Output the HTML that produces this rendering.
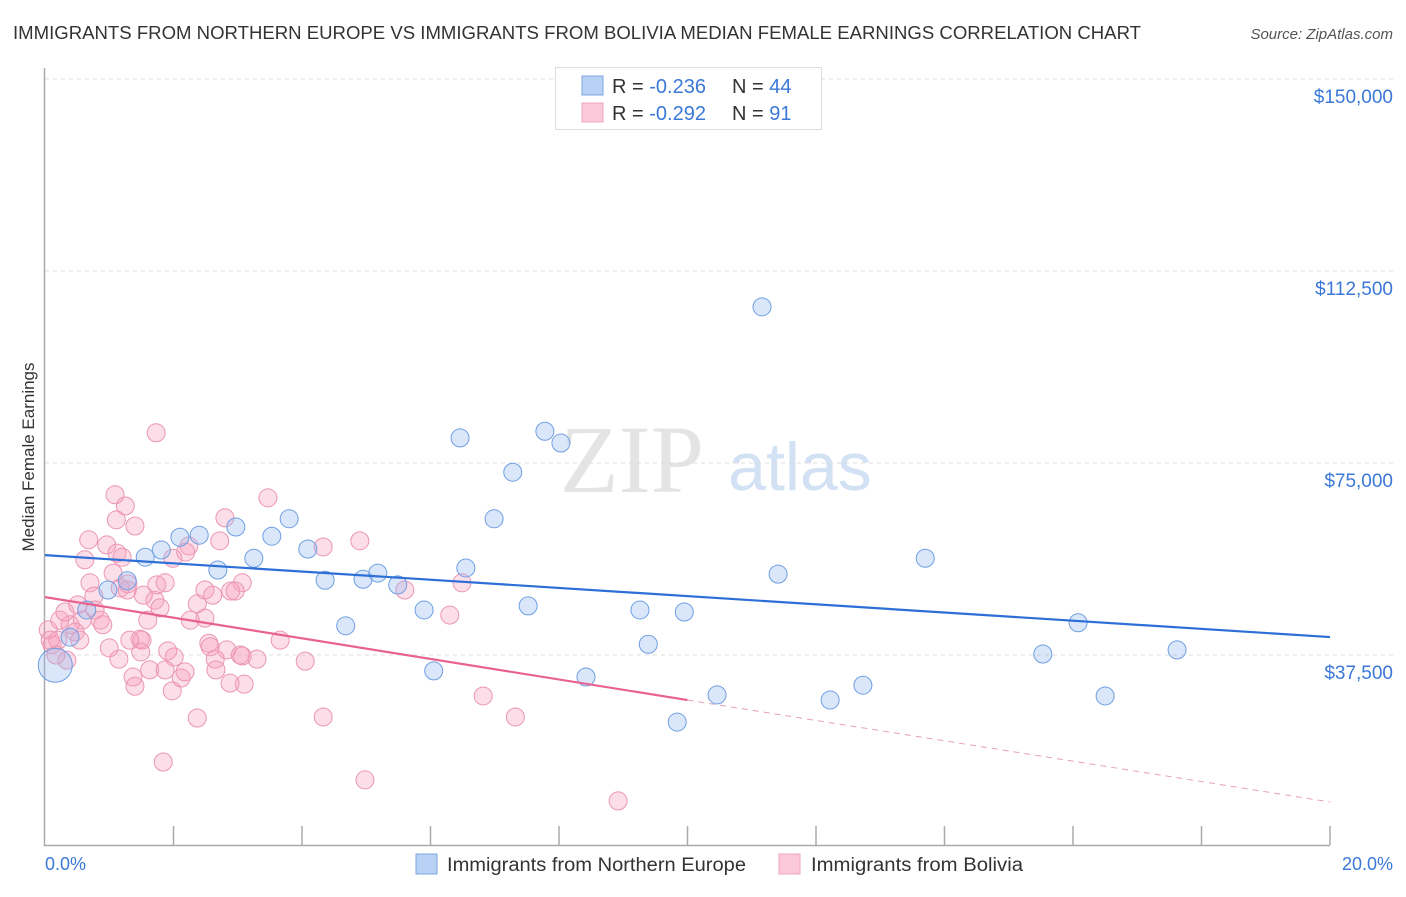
<!DOCTYPE html>
<html><head><meta charset="utf-8"><style>
body{margin:0;background:#fff;width:1406px;height:892px;overflow:hidden;font-family:"Liberation Sans",sans-serif}
</style></head><body>
<svg id="chart" width="1406" height="892" xmlns="http://www.w3.org/2000/svg" font-family="Liberation Sans, sans-serif">
<text x="13" y="39" font-size="18" fill="#333" textLength="1128" lengthAdjust="spacingAndGlyphs">IMMIGRANTS FROM NORTHERN EUROPE VS IMMIGRANTS FROM BOLIVIA MEDIAN FEMALE EARNINGS CORRELATION CHART</text>
<text x="1393" y="39" font-size="15" font-style="italic" fill="#555" text-anchor="end">Source: ZipAtlas.com</text>
<text transform="translate(34,457) rotate(-90)" font-size="17" fill="#333" text-anchor="middle">Median Female Earnings</text>
<g><text x="632" y="492" font-size="96" font-family="Liberation Serif, serif" fill="#e4e4e4" text-anchor="middle">ZIP</text><text x="800" y="490" font-size="68" fill="#d3e1f5" text-anchor="middle">atlas</text></g>
<g id="grid"></g><g id="axes"></g><g id="marks"></g>
<g>
<rect x="555.5" y="67.5" width="266" height="62" fill="#fff" stroke="#ddd"/>
<rect x="582" y="76" width="21" height="19" fill="#b9d1f5" stroke="#7ea6e0"/>
<rect x="582" y="103" width="21" height="19" fill="#fbc9d9" stroke="#eea5bf"/>
<text x="612" y="93" font-size="20" fill="#333">R = <tspan fill="#3b78d8">-0.236</tspan><tspan x="732">N = </tspan><tspan fill="#3b78d8">44</tspan></text>
<text x="612" y="120" font-size="20" fill="#333">R = <tspan fill="#3b78d8">-0.292</tspan><tspan x="732">N = </tspan><tspan fill="#3b78d8"> 91</tspan></text>
</g>
<g>
<rect x="416" y="854" width="21" height="20" fill="#b9d1f5" stroke="#7ea6e0"/>
<text x="447" y="871" font-size="19" fill="#333" textLength="299" lengthAdjust="spacingAndGlyphs">Immigrants from Northern Europe</text>
<rect x="779" y="854" width="21" height="20" fill="#fbc9d9" stroke="#eea5bf"/>
<text x="811" y="871" font-size="19" fill="#333" textLength="212" lengthAdjust="spacingAndGlyphs">Immigrants from Bolivia</text>
</g>
<text x="45" y="870" font-size="18" fill="#3b78d8">0.0%</text>
<text x="1393" y="870" font-size="18" fill="#3b78d8" text-anchor="end">20.0%</text>
</svg>
<script>
const yTicks=[37500,75000,112500,150000];
const yTickLabels=["$37,500","$75,000","$112,500","$150,000"];
const blueX=[11.16,6.46,7.78,8.03,7.28,6.99,3.80,2.97,2.40,2.10,3.53,1.81,1.56,3.25,4.09,2.69,4.36,4.95,5.18,5.49,6.55,13.70,11.41,5.90,7.52,9.26,9.95,4.68,16.08,9.39,17.62,15.53,6.05,8.42,12.73,10.46,12.22,16.50,9.84,1.28,0.98,0.65,0.39,0.16];
const blueY=[105.5,79.9,81.2,78.9,73.2,64.1,64.1,62.5,60.9,60.5,60.7,58.0,56.6,56.4,58.2,54.1,52.1,52.3,53.5,51.2,54.5,56.4,53.3,46.3,47.1,46.3,45.9,43.2,43.8,39.6,38.5,37.7,34.4,33.2,31.6,29.7,28.7,29.5,24.4,52.0,50.2,46.3,41.0,35.5];
const pinkX=[1.73,1.09,1.25,1.11,1.40,0.68,0.96,1.12,0.62,1.20,1.06,0.70,0.76,0.58,1.17,1.28,1.29,1.74,1.71,1.87,2.24,2.19,1.99,1.79,1.60,1.48,1.49,1.15,1.37,1.00,1.40,1.63,1.91,2.01,1.98,1.87,2.12,2.18,2.37,2.55,2.57,2.65,2.66,3.07,2.89,2.96,2.83,3.07,3.30,3.10,2.88,2.37,2.49,2.72,2.80,3.47,3.66,4.05,4.33,4.90,5.60,6.30,6.49,6.82,4.33,7.32,1.84,4.98,8.92,3.04,0.11,0.05,0.23,0.39,0.47,0.54,0.20,0.08,0.31,0.51,0.78,0.86,0.90,0.34,0.17,1.51,1.32,2.49,2.61,1.53,2.26];
const pinkY=[80.9,68.8,66.6,63.9,62.7,60.0,59.0,57.4,56.1,56.6,53.5,51.6,49.0,44.3,50.6,50.2,51.4,51.2,48.2,51.6,58.8,57.6,56.4,46.7,44.3,40.6,38.1,36.7,33.2,38.9,31.4,34.6,38.3,37.1,30.5,34.6,33.0,34.2,25.2,39.8,39.1,36.7,34.6,51.6,50.0,50.0,38.5,37.3,36.7,31.8,32.0,47.5,44.7,59.8,64.3,68.2,40.4,36.3,58.6,59.8,50.2,45.3,51.6,29.5,25.4,25.4,16.6,13.1,9.0,37.5,39.5,42.4,44.3,43.4,42.0,40.4,40.4,40.4,45.9,47.3,46.3,44.3,43.4,36.5,37.5,40.4,40.4,50.2,49.2,49.2,44.3];
const blueTrend=[57.0,41.0];
const pinkTrend=[48.8,28.7,8.8];
const NS="http://www.w3.org/2000/svg";
const X=p=>45+p*64.25;
function Yk(k){return 847-k*192/37.5;}
function mk(tag,attrs,parent){const e=document.createElementNS(NS,tag);for(const k in attrs)e.setAttribute(k,attrs[k]);parent.appendChild(e);return e;}
const grid=document.getElementById('grid'),axes=document.getElementById('axes'),marks=document.getElementById('marks');
yTicks.forEach((v,i)=>{
  const y=Yk(v/1000);
  const l=mk('line',{x1:45,x2:1393,y1:y,y2:y,stroke:'#ddd','stroke-dasharray':'4,4'},grid);
  
  
  const t=mk('text',{x:1393,y:y+24,'font-size':19,fill:'#3b78d8','text-anchor':'end'},grid);
  t.textContent=yTickLabels[i];
  
  
});
const ax=mk('path',{d:'M44.5,68 V845.5 H1330',stroke:'#aaa',fill:'none','stroke-width':1.5},axes);


for(let i=1;i<=10;i++){
  const x=X(i*2);
  const t=mk('line',{x1:x,x2:x,y1:826,y2:845,stroke:'#aaa','stroke-width':1.5},axes);
  
  
}
pinkX.forEach((x,i)=>{
  const c=mk('circle',{cx:X(x),cy:Yk(pinkY[i]),r:9,fill:'rgba(245,160,190,0.35)',stroke:'#eb95b5','stroke-width':1},marks);
  
  
});
blueX.forEach((x,i)=>{
  const c=mk('circle',{cx:X(x),cy:Yk(blueY[i]),r:i===blueX.length-1?17:9,fill:'rgba(150,185,240,0.35)',stroke:'#6f9fe2','stroke-width':1},marks);
  
  
});
const bl=mk('line',{x1:X(0),y1:Yk(blueTrend[0]),x2:X(20),y2:Yk(blueTrend[1]),stroke:'#2d6fd6','stroke-width':2.2},marks);


const pl=mk('line',{x1:X(0),y1:Yk(pinkTrend[0]),x2:X(10),y2:Yk(pinkTrend[1]),stroke:'#e8628f','stroke-width':2.2},marks);


const pd=mk('line',{x1:X(10),y1:Yk(pinkTrend[1]),x2:X(20),y2:Yk(pinkTrend[2]),stroke:'#e8a0b8','stroke-width':1,'stroke-dasharray':'6,5'},marks);


</script>
</body></html>
